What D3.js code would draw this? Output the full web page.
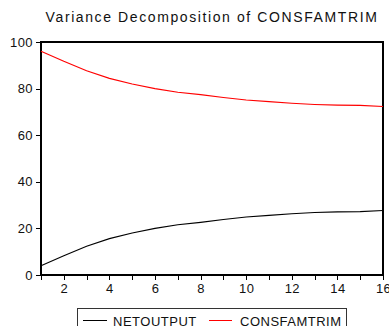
<!DOCTYPE html>
<html>
<head>
<meta charset="utf-8">
<script src="https://cdn.jsdelivr.net/npm/d3@7"></script>
<style>
  body { margin: 0; background: #fff; }
  svg { display: block; font-family: "Liberation Sans", Arial, sans-serif; }
</style>
</head>
<body>
<div id="chart"></div>
<script>

const title = "Variance Decomposition of CONSFAMTRIM";
const periods = [1, 2, 3, 4, 5, 6, 7, 8, 9, 10, 11, 12, 13, 14, 15, 16];
const netoutput = [4.0, 8.3, 12.3, 15.6, 18.0, 20.0, 21.6, 22.6, 23.8, 24.9, 25.6, 26.3, 26.8, 27.1, 27.2, 27.7];
const consfamtrim = [96.0, 91.7, 87.7, 84.4, 82.0, 80.0, 78.4, 77.4, 76.2, 75.1, 74.4, 73.7, 73.2, 72.9, 72.8, 72.3];
const yTicks = [0, 20, 40, 60, 80, 100];
const seriesNames = ["NETOUTPUT", "CONSFAMTRIM"];
const seriesColors = ["#000000", "#ff0000"];

const width = 389, height = 326;
const plot = {left: 41, right: 383, top: 42, bottom: 275};

const svg = d3.select('#chart').append('svg')
              .attr('width', width)
              .attr('height', height);

const x = d3.scaleLinear()
            .domain([1, 16])
            .range([plot.left, plot.right]);
const y = d3.scaleLinear()
            .domain([0, 100])
            .range([plot.bottom, plot.top]);

// title
svg.append('text')
   .attr('x', 212)
   .attr('y', 21.5)
   .attr('text-anchor', 'middle')
   .attr('font-size', 14)
   .attr('letter-spacing', 1.6)
   .attr('fill', '#111')
   .text(title);

// axes
const yAxis = svg.append('g')
   .attr('transform', `translate(${plot.left},0)`)
   .call(d3.axisLeft(y).tickValues(yTicks).tickSize(5).tickPadding(3));

const xAxis = svg.append('g')
   .attr('transform', `translate(0,${plot.bottom})`)
   .call(d3.axisBottom(x).tickValues(periods).tickSize(5).tickPadding(4)
           .tickFormat(d => d % 2 === 0 ? d : ''));

[yAxis, xAxis].forEach(function(ax) {
    ax.select('.domain').remove();
    ax.selectAll('line').attr('stroke', '#000').attr('shape-rendering', 'crispEdges');
    ax.selectAll('text')
      .attr('font-size', 13)
      .attr('letter-spacing', 0.4)
      .attr('fill', '#111')
      .attr('font-family', '"Liberation Sans", Arial, sans-serif');
});

// frame
svg.append('rect')
   .attr('x', plot.left)
   .attr('y', plot.top)
   .attr('width', plot.right - plot.left)
   .attr('height', plot.bottom - plot.top)
   .attr('fill', 'none')
   .attr('stroke', '#000')
   .attr('stroke-width', 1.2)
   .attr('shape-rendering', 'crispEdges');

// lines
const line = d3.line()
               .x(function(d, i) { return x(periods[i]); })
               .y(function(d) { return y(d); });

[netoutput, consfamtrim].forEach(function(series, k) {
    svg.append('path')
       .datum(series)
       .attr('d', line)
       .attr('fill', 'none')
       .attr('stroke', seriesColors[k])
       .attr('stroke-width', 1.1);
});

// legend
const legend = svg.append('g');
legend.append('rect')
      .attr('x', 77.5)
      .attr('y', 308.5)
      .attr('width', 269)
      .attr('height', 30)
      .attr('fill', '#fff')
      .attr('stroke', '#333');

const legendItems = [
    {line: [83, 107], text: 113},
    {line: [209, 232], text: 240}
];
legendItems.forEach(function(it, k) {
    legend.append('line')
          .attr('x1', it.line[0]).attr('x2', it.line[1])
          .attr('y1', 320.5).attr('y2', 320.5)
          .attr('stroke', seriesColors[k]);
    legend.append('text')
          .attr('x', it.text)
          .attr('y', 325.5)
          .attr('font-size', 13)
          .attr('letter-spacing', 0.5)
          .attr('fill', '#111')
          .text(seriesNames[k]);
});

</script>
</body>
</html>
